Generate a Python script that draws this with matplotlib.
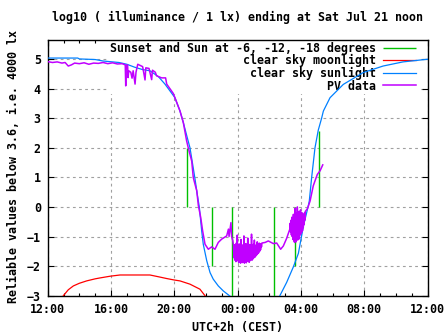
import matplotlib
matplotlib.use("Agg")
import matplotlib.pyplot as plt

plt.rcParams['font.family'] = 'DejaVu Sans Mono'
plt.rcParams['font.weight'] = 'bold'
plt.rcParams['font.size'] = 8.4

""" all times are hours after Fri 12:00 (CEST) """
x_ticks = [0, 4, 8, 12, 16, 20, 24]
x_tick_labels = ["12:00", "16:00", "20:00", "00:00", "04:00", "08:00", "12:00"]
y_ticks = [-3, -2, -1, 0, 1, 2, 3, 4, 5]

""" sunset / sun at -6, -12, -18 degrees, sunrise """
sun_events_t = [8.82, 10.40, 11.66, 14.32, 15.65, 17.16]
sun_events_lo = [0, -2.0, -4.0, -4.0, -2.0, 0]
sun_events_hi = [2.0, 0, 0, 0, 0, 2.57]

""" clear sky moonlight """
moon_t = [0.99, 1.3, 1.62, 2.0, 2.46, 3.0, 3.3, 3.96, 4.57, 5.5, 6.46, 7.0, 7.52, 8.0, 8.36,
          8.99, 9.62, 9.94]
moon_v = [-3.0, -2.8, -2.67, -2.58, -2.5, -2.43, -2.4, -2.34, -2.3, -2.3, -2.3, -2.36, -2.42,
          -2.47, -2.5, -2.61, -2.78, -3.0]

""" clear sky sunlight """
sunlight_t = [0, 1.9, 2.0, 3.0, 3.5, 4.5, 5.0, 5.5, 6.0, 6.46, 7.0, 7.41, 8.04, 8.36, 8.57,
              8.82, 8.99, 9.16, 9.31, 9.45, 9.58, 9.73, 9.83, 10.05, 10.26, 10.46, 10.78,
              11.1, 11.41, 11.6, 11.8,
              14.5, 14.67, 15.1, 15.52, 15.84, 16.15, 16.45, 16.53, 16.68, 16.89, 17.1,
              17.31, 17.42, 17.84, 18.68, 19.94, 21.19, 22.45, 24.0]
sunlight_v = [5.03, 5.03, 5.0, 4.98, 4.93, 4.88, 4.82, 4.72, 4.64, 4.6, 4.4, 4.15, 3.69, 3.24,
              2.85, 2.34, 2.0, 1.44, 0.94, 0.43, 0.0, -0.81, -1.26, -1.82, -2.22, -2.44,
              -2.67, -2.84, -2.97, -3.05, -3.2,
              -3.2, -3.0, -2.55, -2.03, -1.57, -0.67, 0.0, 0.2, 1.0, 2.0, 2.6,
              3.0, 3.24, 3.69, 4.14, 4.54, 4.76, 4.9, 4.99]

""" PV data """
pv_t = [0.0, 0.3, 0.6, 0.9, 1.1, 1.3, 1.5, 1.7, 2.0, 2.3, 2.6, 2.9, 3.2, 3.5, 3.8, 4.1,
        4.4, 4.7, 4.9, 4.93, 4.96, 5.05, 5.08, 5.12, 5.25, 5.33, 5.4, 5.52, 5.58, 5.69,
        5.85, 6.0, 6.15, 6.2, 6.4, 6.57, 6.62, 6.8, 6.88, 7.2, 7.45, 7.52, 7.94, 8.36,
        8.57, 8.78, 8.88, 9.1, 9.2, 9.42, 9.52, 9.67, 9.79, 9.94, 10.15, 10.36, 10.57,
        10.78, 10.99, 11.31, 11.42, 11.46, 11.58, 11.62, 11.7,
        11.74, 11.77, 11.80, 11.83, 11.86, 11.89, 11.92, 11.95, 11.98, 12.01,
        12.04, 12.07, 12.10, 12.13, 12.16, 12.19, 12.22, 12.25, 12.28, 12.31,
        12.34, 12.37, 12.40, 12.43, 12.46, 12.49, 12.52, 12.55, 12.58, 12.61,
        12.64, 12.67, 12.70, 12.73, 12.76, 12.79, 12.82, 12.85, 12.88, 12.91,
        12.94, 12.97, 13.00, 13.03, 13.06, 13.09, 13.12, 13.15, 13.18, 13.21,
        13.24, 13.27, 13.30, 13.33, 13.36, 13.39, 13.42, 13.45, 13.48, 13.51, 13.54,
        13.74, 13.94, 14.26, 14.47, 14.72, 14.89, 15.1,
        15.300, 15.325, 15.350, 15.375, 15.400, 15.425, 15.450, 15.475, 15.500, 15.525,
        15.550, 15.575, 15.600, 15.625, 15.650, 15.675, 15.700, 15.725, 15.750, 15.775,
        15.800, 15.825, 15.850, 15.875, 15.900, 15.925, 15.950, 15.975, 16.000, 16.025,
        16.050, 16.075, 16.100, 16.125, 16.150, 16.175, 16.200, 16.225, 16.250, 16.275,
        16.300, 16.42, 16.58, 16.78, 16.89, 17.04, 17.21, 17.38]
pv_v = [4.91, 4.88, 4.9, 4.86, 4.88, 4.76, 4.8, 4.86, 4.84, 4.87, 4.82, 4.86, 4.85, 4.88,
        4.84, 4.87, 4.83, 4.84, 4.8, 4.09, 4.78, 4.8, 4.37, 4.6, 4.55, 4.35, 4.6, 4.15,
        4.55, 4.82, 4.78, 4.74, 4.29, 4.7, 4.68, 4.3, 4.62, 4.55, 4.43, 4.36, 4.36, 4.15,
        3.83, 3.24, 2.85, 2.23, 2.0, 1.55, 0.99, 0.54, 0.05, -0.36, -0.81, -1.26, -1.43,
        -1.35, -1.43, -1.2, -1.09, -0.98, -0.75, -1.0, -0.53, -1.0, -1.15,
        -1.30, -1.72, -1.28, -1.80, -1.35, -1.85, -1.22, -1.78, -0.95, -1.82,
        -1.30, -1.88, -1.25, -1.84, -1.40, -1.90, -1.10, -1.86, -1.32, -1.88,
        -1.28, -1.83, -0.98, -1.90, -1.36, -1.86, -1.24, -1.89, -1.30, -1.84,
        -1.05, -1.80, -1.34, -1.87, -1.27, -1.82, -1.40, -1.78, -0.92, -1.80,
        -1.30, -1.76, -1.26, -1.72, -1.12, -1.70, -1.33, -1.66, -1.28, -1.62,
        -1.18, -1.58, -1.30, -1.55, -1.22, -1.50, -1.26, -1.45, -1.24, -1.35, -1.22,
        -1.2, -1.15, -1.24, -1.22, -1.43, -1.32, -1.06,
        -0.75, -0.55, -0.85, -0.45, -0.95, -0.35, -1.00, -0.40, -1.10, -0.25,
        -1.15, -0.30, -1.20, -0.05, -1.10, -0.35, -1.18, -0.20, -1.05, 0.00,
        -1.12, -0.30, -1.00, -0.15, -1.08, -0.40, -0.95, -0.10, -0.90, -0.35,
        -0.85, -0.20, -0.80, -0.30, -0.70, -0.25, -0.60, -0.20, -0.45, -0.15,
        -0.14, -0.05, 0.2, 0.71, 0.88, 1.1, 1.22, 1.42]

fig = plt.figure(figsize=(4.47, 3.35), dpi=100)
ax = fig.add_axes([0.1067, 0.1173, 0.8497, 0.7633])

ax.vlines(sun_events_t, sun_events_lo, sun_events_hi, color='#00c000', lw=1.0, zorder=3,
          label='Sunset and Sun at -6, -12, -18 degrees')
ax.plot(moon_t, moon_v, color='#ff0000', lw=0.9, zorder=3, label='clear sky moonlight')
ax.plot(sunlight_t, sunlight_v, color='#0080ff', lw=0.9, zorder=3, label='clear sky sunlight')
ax.plot(pv_t, pv_v, color='#c000ff', lw=1.1, zorder=4, label='PV data')

ax.set_xlim(0, 24)
ax.set_ylim(-3, 5.64)
ax.set_xticks(x_ticks)
ax.set_xticklabels(x_tick_labels)
ax.set_xticks(range(0, 25), minor=True)
ax.set_yticks(y_ticks)
ax.tick_params(which='both', direction='in', top=True, right=True, width=0.8)
ax.tick_params(which='major', length=4.5, pad=5)
ax.tick_params(which='minor', length=2.5)
ax.grid(True, which='major', color='#a0a0a0', linestyle=(0, (2.5, 3)), lw=0.8)
ax.set_axisbelow(True)
for s in ax.spines.values():
  s.set_linewidth(1.0)

leg = ax.legend(loc='upper right', bbox_to_anchor=(0.975, 1.0), borderaxespad=0,
                markerfirst=False, handlelength=2.85, handletextpad=0.6, labelspacing=-0.04,
                borderpad=0.15, fancybox=False, framealpha=1, edgecolor='none')
leg.set_zorder(2)
for col in leg._legend_handle_box.get_children():
  col.align = 'right'

fig.text(0.5315, 0.948, 'log10 ( illuminance / 1 lx) ending at Sat Jul 21 noon',
         ha='center', va='center')
fig.text(0.5315, 0.023, 'UTC+2h (CEST)', ha='center', va='center')
fig.text(0.031, 0.503, 'Reliable values below 3.6, i.e. 4000 lx', rotation=90,
         ha='center', va='center')

fig.savefig('out.png', dpi=100)
